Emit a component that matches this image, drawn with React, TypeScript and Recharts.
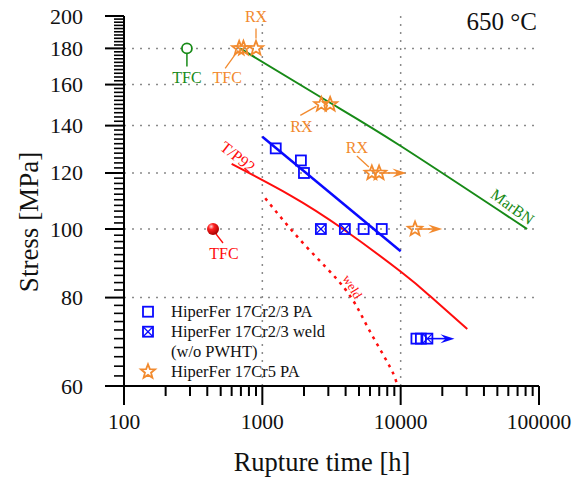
import React from 'react'
import {
  ComposedChart,
  Line,
  Scatter,
  XAxis,
  YAxis,
  ReferenceLine,
  ReferenceDot,
  Legend,
  Customized,
} from 'recharts'

document.body.style.margin = '0'

const FONT = '"Liberation Serif", "Times New Roman", serif'
const GREEN = '#178a17'
const BLUE = '#0a0aff'
const RED = '#ff0d0d'
const ORANGE = '#f28a2e'
const GRID = '#8a8a8a'
const INK = '#111'

// curves: rupture time [h] vs stress [MPa]
const marbnCurve = [
  { t: 690, s: 180 },
  { t: 3000, s: 151.3 },
  { t: 10000, s: 131 },
  { t: 82000, s: 100 },
]
const cr23Fit = [
  { t: 1000, s: 135 },
  { t: 10000, s: 93 },
]
const p92Curve = [
  { t: 600, s: 123.6 },
  { t: 1590, s: 111.6 },
  { t: 3830, s: 100 },
  { t: 10200, s: 86.8 },
  { t: 16300, s: 80.4 },
  { t: 30300, s: 72.2 },
]
const p92WeldCurve = [
  { t: 1050, s: 110.5 },
  { t: 2040, s: 94.8 },
  { t: 3960, s: 82.3 },
  { t: 5810, s: 72.5 },
  { t: 8380, s: 63.8 },
  { t: 9420, s: 60.2 },
]

// test results
const cr23PA = [
  { t: 1250, s: 130 },
  { t: 1900, s: 125 },
  { t: 2000, s: 120 },
  { t: 5400, s: 100 },
  { t: 7300, s: 100 },
  { t: 13000, s: 70 },
  { t: 14000, s: 70 },
]
const cr23Weld = [
  { t: 2650, s: 100 },
  { t: 3950, s: 100 },
  { t: 15600, s: 70 },
]
const cr5PA = [
  { t: 680, s: 180 },
  { t: 730, s: 180 },
  { t: 900, s: 180 },
  { t: 2670, s: 150 },
  { t: 3090, s: 150 },
  { t: 6190, s: 120 },
  { t: 6980, s: 120 },
  { t: 12700, s: 100 },
]
const marbnTFC = [{ t: 285, s: 180 }]
const p92TFC = [{ t: 440, s: 100 }]

// tests still running
const cr5Runouts = [
  { from: 6980, to: 11000, s: 120 },
  { from: 12700, to: 20000, s: 100 },
]
const cr23Runouts = [{ from: 15600, to: 24500, s: 70 }]

// line labels
const lineLabels = [
  { text: 'T/P92', t: 665, s: 126.5 },
  { text: 'MarBN', t: 64300, s: 107.5 },
  { text: 'weld', t: 4480, s: 82.9 },
]

const xMajor = [100, 1000, 10000, 100000]
const yMajor = [60, 80, 100, 120, 140, 160, 180, 200]
const xGrid = [1000, 10000]
const yGrid = [80, 100, 120, 140, 160, 180]

const xTicks: number[] = []
xMajor.forEach((d) => {
  for (let k = 1; k < 10; k++) if (d * k <= 100000) xTicks.push(d * k)
})
const yTicks: number[] = []
for (let v = 60; v <= 200; v += 2) yTicks.push(v)

const XTick = ({ x, y, payload }: any) => {
  const major = xMajor.includes(payload.value)
  return (
    <g>
      <line x1={x} x2={x} y1={y} y2={y + (major ? 19 : 10)} stroke="#000" strokeWidth={2} />
      {major && (
        <text x={x} y={y + 43} textAnchor="middle" fontSize={21.5} fontFamily={FONT} fill={INK}>
          {payload.value}
        </text>
      )}
    </g>
  )
}

const YTick = ({ x, y, payload }: any) => {
  const major = yMajor.includes(payload.value)
  return (
    <g>
      <line x1={x} x2={x - (major ? 19 : 10)} y1={y} y2={y} stroke="#000" strokeWidth={major ? 2 : 1.6} />
      {major && (
        <text x={x - 41} y={y + 7.5} textAnchor="end" fontSize={22} fontFamily={FONT} fill={INK}>
          {payload.value}
        </text>
      )}
    </g>
  )
}

const starPoints = (cx: number, cy: number, R = 7.5, r = 3.2) => {
  const pts: string[] = []
  for (let i = 0; i < 10; i++) {
    const a = -Math.PI / 2 + (i * Math.PI) / 5
    const rad = i % 2 === 0 ? R : r
    pts.push(`${(cx + rad * Math.cos(a)).toFixed(2)},${(cy + rad * Math.sin(a)).toFixed(2)}`)
  }
  return pts.join(' ')
}

const Square = ({ cx, cy }: any) => (
  <rect x={cx - 5} y={cy - 5} width={10} height={10} fill="none" stroke={BLUE} strokeWidth={1.8} />
)

const CrossSquare = ({ cx, cy }: any) => (
  <g stroke={BLUE} fill="none">
    <rect x={cx - 5} y={cy - 5} width={10} height={10} strokeWidth={1.8} />
    <line x1={cx - 5} y1={cy - 5} x2={cx + 5} y2={cy + 5} strokeWidth={1.3} />
    <line x1={cx - 5} y1={cy + 5} x2={cx + 5} y2={cy - 5} strokeWidth={1.3} />
  </g>
)

const Star = ({ cx, cy }: any) => (
  <polygon points={starPoints(cx, cy)} fill="none" stroke={ORANGE} strokeWidth={1.8} strokeLinejoin="miter" />
)

const GreenTFC = ({ cx, cy }: any) => (
  <g>
    <line x1={cx} y1={cy + 5} x2={cx} y2={cy + 18} stroke={GREEN} strokeWidth={1.5} />
    <circle cx={cx} cy={cy} r={5} fill="#fff" stroke={GREEN} strokeWidth={1.8} />
    <text x={cx} y={cy + 35} textAnchor="middle" fontSize={16} fontFamily={FONT} fill={GREEN}>
      TFC
    </text>
  </g>
)

const RedTFC = ({ cx, cy }: any) => (
  <g>
    <defs>
      <radialGradient id="redBall" cx="35%" cy="30%" r="70%">
        <stop offset="0" stopColor="#ffd6d6" />
        <stop offset="0.35" stopColor="#ff2020" />
        <stop offset="1" stopColor="#a80000" />
      </radialGradient>
    </defs>
    <line x1={cx + 3} y1={cy + 5} x2={cx + 10} y2={cy + 14} stroke={RED} strokeWidth={1.3} />
    <circle cx={cx} cy={cy} r={6} fill="url(#redBall)" />
    <text x={cx + 11} y={cy + 30} textAnchor="middle" fontSize={16} fontFamily={FONT} fill={RED}>
      TFC
    </text>
  </g>
)

const arrow = (color: string) => (props: any) => {
  const { x1, y1, x2, y2 } = props
  return (
    <g>
      <line x1={x1} y1={y1} x2={x2 - 8} y2={y2} stroke={color} strokeWidth={1.6} />
      <path d={`M${x2},${y2} L${x2 - 14},${y2 - 4.5} L${x2 - 9},${y2} L${x2 - 14},${y2 + 4.5} Z`} fill={color} />
    </g>
  )
}

// orange note with a leader line, offsets in px from the star
const note = (text: string, tx: number, ty: number, l1: number[], l2: number[]) => ({ cx, cy }: any) => (
  <g>
    <line x1={cx + l1[0]} y1={cy + l1[1]} x2={cx + l2[0]} y2={cy + l2[1]} stroke={ORANGE} strokeWidth={1.3} />
    <text x={cx + tx} y={cy + ty} textAnchor="middle" fontSize={16} fontFamily={FONT} fill={ORANGE}>
      {text}
    </text>
  </g>
)

const rotated = (text: string, angle: number, color: string, size: number) => ({ cx, cy }: any) => (
  <text
    x={cx}
    y={cy}
    transform={`rotate(${angle} ${cx} ${cy})`}
    textAnchor="middle"
    dominantBaseline="central"
    fontSize={size}
    fontFamily={FONT}
    fill={color}
  >
    {text}
  </text>
)

const Titles = () => (
  <g fontFamily={FONT} fill={INK}>
    <text x={537} y={30} textAnchor="end" fontSize={25}>
      650 °C
    </text>
    <text x={322} y={471} textAnchor="middle" fontSize={26.5}>
      Rupture time [h]
    </text>
    <text x={38} y={222} textAnchor="middle" fontSize={27} transform="rotate(-90 38 222)">
      Stress [MPa]
    </text>
  </g>
)

const LegendBox = () => (
  <svg width={200} height={84} style={{ overflow: 'visible', display: 'block' }}>
    <g fontFamily={FONT} fontSize={16.5} fill={INK}>
      <Square cx={12} cy={11.7} />
      <text x={35} y={16.7}>HiperFer 17Cr2/3 PA</text>
      <CrossSquare cx={12} cy={31.7} />
      <text x={35} y={36.7}>HiperFer 17Cr2/3 weld</text>
      <text x={35} y={56.7}>(w/o PWHT)</text>
      <Star cx={12} cy={71.7} />
      <text x={35} y={76.7}>HiperFer 17Cr5 PA</text>
    </g>
  </svg>
)

export default function App() {
  return (
    <div style={{ background: '#fff', width: 573, height: 480 }}>
      <ComposedChart width={573} height={480} margin={{ top: 16, right: 34, bottom: 0, left: 0 }}>
        <XAxis
          type="number"
          dataKey="t"
          scale="log"
          domain={[100, 100000]}
          allowDataOverflow
          ticks={xTicks}
          interval={0}
          tickSize={0}
          tickMargin={0}
          tickLine={false}
          tick={(p: any) => <XTick {...p} />}
          axisLine={{ stroke: '#000', strokeWidth: 2 }}
          height={94}
        />
        <YAxis
          type="number"
          dataKey="s"
          scale="log"
          domain={[60, 200]}
          allowDataOverflow
          ticks={yTicks}
          interval={0}
          tickSize={0}
          tickMargin={0}
          tickLine={false}
          tick={(p: any) => <YTick {...p} />}
          axisLine={{ stroke: '#000', strokeWidth: 2 }}
          width={124}
        />

        {yGrid.map((v) => (
          <ReferenceLine key={`gy${v}`} y={v} stroke={GRID} strokeWidth={1.5} strokeDasharray="2 6" />
        ))}
        {xGrid.map((v) => (
          <ReferenceLine key={`gx${v}`} x={v} stroke={GRID} strokeWidth={1.5} strokeDasharray="2 6" />
        ))}

        <Line data={marbnCurve} dataKey="s" type="natural" stroke={GREEN} strokeWidth={2} dot={false} isAnimationActive={false} />
        <Line data={cr23Fit} dataKey="s" type="linear" stroke={BLUE} strokeWidth={2.5} dot={false} isAnimationActive={false} />
        <Line data={p92Curve} dataKey="s" type="natural" stroke={RED} strokeWidth={2} dot={false} isAnimationActive={false} />
        <Line
          data={p92WeldCurve}
          dataKey="s"
          type="natural"
          stroke={RED}
          strokeWidth={2.5}
          strokeDasharray="3 5"
          dot={false}
          isAnimationActive={false}
        />

        {cr5Runouts.map((r, i) => (
          <ReferenceLine key={`r5${i}`} segment={[{ x: r.from, y: r.s }, { x: r.to, y: r.s }]} shape={arrow(ORANGE)} />
        ))}
        {cr23Runouts.map((r, i) => (
          <ReferenceLine key={`r23${i}`} segment={[{ x: r.from, y: r.s }, { x: r.to, y: r.s }]} shape={arrow(BLUE)} />
        ))}

        <Scatter data={cr23PA} shape={Square} isAnimationActive={false} />
        <Scatter data={cr23Weld} shape={CrossSquare} isAnimationActive={false} />
        <Scatter data={cr5PA} shape={Star} isAnimationActive={false} />
        <Scatter data={marbnTFC} shape={GreenTFC} isAnimationActive={false} />
        <Scatter data={p92TFC} shape={RedTFC} isAnimationActive={false} />

        <ReferenceDot x={cr5PA[2].t} y={cr5PA[2].s} shape={note('RX', 0, -26, [0, -20], [0, -10])} />
        <ReferenceDot x={cr5PA[0].t} y={cr5PA[0].s} shape={note('TFC', -12, 35, [-14, 20], [-1, 2])} />
        <ReferenceDot x={cr5PA[3].t} y={cr5PA[3].s} shape={note('RX', -20, 28, [-21, 11], [-5, 2])} />
        <ReferenceDot x={cr5PA[5].t} y={cr5PA[5].s} shape={note('RX', -15, -20, [-15, -17], [-3, -6])} />

        <ReferenceDot x={lineLabels[0].t} y={lineLabels[0].s} shape={rotated(lineLabels[0].text, 38, RED, 16)} />
        <ReferenceDot x={lineLabels[1].t} y={lineLabels[1].s} shape={rotated(lineLabels[1].text, 36, GREEN, 16)} />
        <ReferenceDot x={lineLabels[2].t} y={lineLabels[2].s} shape={rotated(lineLabels[2].text, 58, RED, 13)} />

        <Legend
          layout="horizontal"
          verticalAlign="middle"
          align="center"
          content={() => <LegendBox />}
          wrapperStyle={{ left: 136, top: 300, width: 200, height: 84 }}
        />
        <Customized component={<Titles />} />
      </ComposedChart>
    </div>
  )
}
